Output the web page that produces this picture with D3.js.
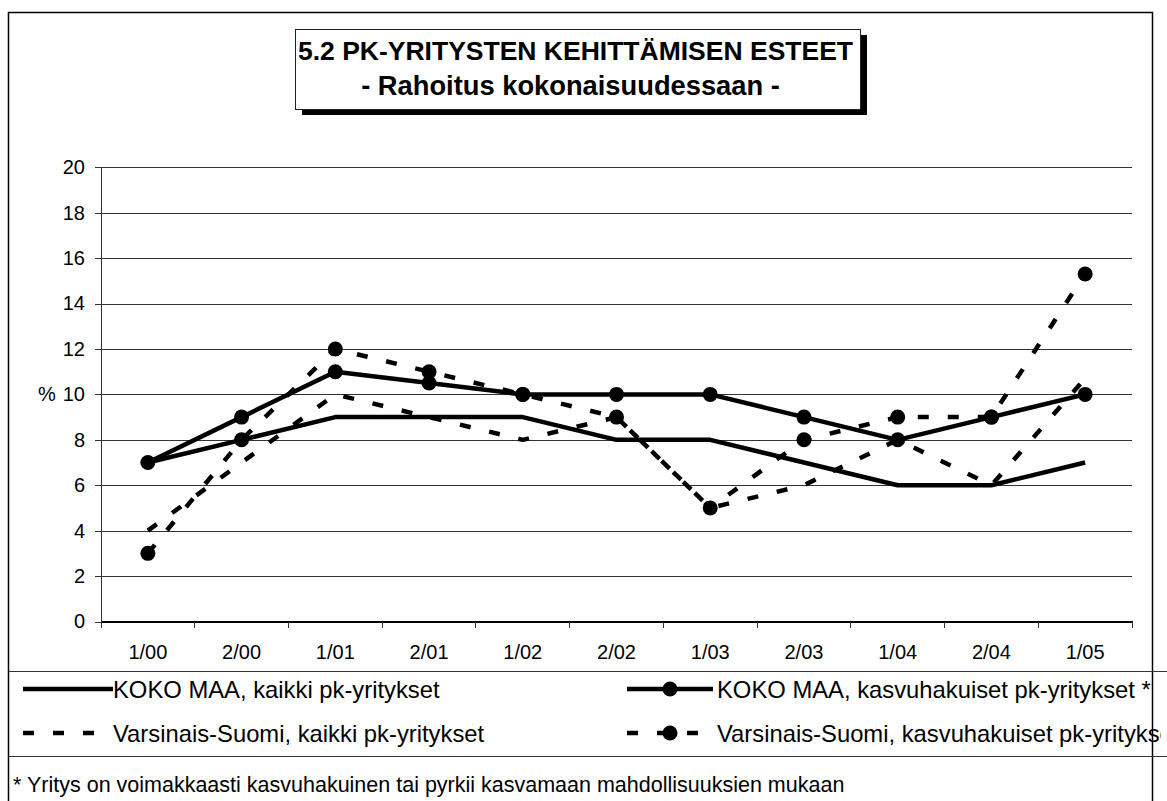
<!DOCTYPE html>
<html>
<head>
<meta charset="utf-8">
<script src="https://cdn.jsdelivr.net/npm/d3@7"></script>
<style>
  html, body { margin: 0; padding: 0; background: #fff; }
  svg { display: block; font-family: "Liberation Sans", Arial, sans-serif; }
</style>
</head>
<body>
<svg id="chart" width="1167" height="801"></svg>
<script>
// ---- data ----
const categories = ["1/00","2/00","1/01","2/01","1/02","2/02","1/03","2/03","1/04","2/04","1/05"];
const kokoKaikki = [7, 8, 9, 9, 9, 8, 8, 7, 6, 6, 7];
const kokoKasvu  = [7, 9, 11, 10.5, 10, 10, 10, 9, 8, 9, 10];
const vsKaikki   = [4, 7, 10, 9, 8, 9, 5, 6, 8, 6, 10.7];
const vsKasvu    = [3, 8, 12, 11, 10, 9, 5, 8, 9, 9, 15.3];
const yTicks = [0, 2, 4, 6, 8, 10, 12, 14, 16, 18, 20];
const seriesNames = [
  "KOKO MAA, kaikki pk-yritykset",
  "KOKO MAA, kasvuhakuiset pk-yritykset *",
  "Varsinais-Suomi, kaikki pk-yritykset",
  "Varsinais-Suomi, kasvuhakuiset pk-yritykset *"
];
const titleText = "5.2 PK-YRITYSTEN KEHITTÄMISEN ESTEET";
const subtitleText = "- Rahoitus kokonaisuudessaan -";
const yTitle = "%";
const footnote = "* Yritys on voimakkaasti kasvuhakuinen tai pyrkii kasvamaan mahdollisuuksien mukaan";

const series = [
  { name: seriesNames[0], values: kokoKaikki, dashed: false, marker: false },
  { name: seriesNames[1], values: kokoKasvu,  dashed: false, marker: true },
  { name: seriesNames[2], values: vsKaikki,   dashed: true,  marker: false },
  { name: seriesNames[3], values: vsKasvu,    dashed: true,  marker: true }
];

// ---- layout ----
const svg = d3.select("#chart");
const plot = { left: 101, right: 1132, top: 167.3, bottom: 621.5 };
const LW = 4.5, DASH = "11,19", R = 7.5;

// outer frame
svg.append("rect").attr("x", 8.5).attr("y", 12.5).attr("width", 1144).attr("height", 820)
  .attr("fill", "none").attr("stroke", "#000").attr("stroke-width", 1.5);

// title box with shadow
const tb = { x: 295, y: 29, w: 565, h: 80 };
svg.append("rect").attr("x", tb.x + 7).attr("y", tb.y + 6).attr("width", tb.w).attr("height", tb.h).attr("fill", "#000");
svg.append("rect").attr("x", tb.x + 0.5).attr("y", tb.y + 0.5).attr("width", tb.w).attr("height", tb.h)
  .attr("fill", "#fff").attr("stroke", "#222").attr("stroke-width", 1);
svg.append("text").attr("x", tb.x + tb.w / 2 - 2).attr("y", 60).attr("text-anchor", "middle")
  .attr("font-weight", "bold").attr("font-size", 26.5).text(titleText);
svg.append("text").attr("x", tb.x + tb.w / 2 - 7).attr("y", 95).attr("text-anchor", "middle")
  .attr("font-weight", "bold").attr("font-size", 27.3).text(subtitleText);

// scales
const x = d3.scaleBand().domain(categories).range([plot.left, plot.right]).padding(0);
const cx = d => x(d) + x.bandwidth() / 2;
const y = d3.scaleLinear().domain([0, 20]).range([plot.bottom, plot.top]);

// gridlines
const grid = svg.append("g").attr("transform", `translate(${plot.left},0)`)
  .call(d3.axisLeft(y).tickValues(yTicks.filter(v => v > 0)).tickSize(-(plot.right - plot.left)).tickFormat(""));
grid.select(".domain").remove();
grid.selectAll("line").attr("stroke", "#333").attr("stroke-width", 1).attr("shape-rendering", "crispEdges");

// y axis
const ya = svg.append("g").attr("transform", `translate(${plot.left},0)`)
  .call(d3.axisLeft(y).tickValues(yTicks).tickSize(6).tickPadding(10).tickSizeOuter(0));
ya.select(".domain").attr("stroke", "#333").attr("stroke-width", 1).attr("shape-rendering", "crispEdges");
ya.selectAll("line").attr("stroke", "#333").attr("shape-rendering", "crispEdges");
ya.selectAll("text").attr("font-size", 20).attr("fill", "#000").attr("font-family", "Liberation Sans, Arial, sans-serif");
svg.append("text").attr("x", 38).attr("y", y(10)).attr("dy", "0.35em").attr("font-size", 20).text(yTitle);

// x axis
const xa = svg.append("g").attr("transform", `translate(0,${plot.bottom})`)
  .call(d3.axisBottom(x).tickSize(0).tickPadding(23).tickSizeOuter(0));
xa.select(".domain").attr("stroke", "#000").attr("stroke-width", 1.2).attr("shape-rendering", "crispEdges");
xa.selectAll("text").attr("font-size", 20).attr("fill", "#000").attr("font-family", "Liberation Sans, Arial, sans-serif");
const boundaries = d3.range(categories.length + 1).map(i => plot.left + i * x.step());
xa.selectAll(".bnd").data(boundaries).join("line").attr("class", "bnd")
  .attr("x1", d => d).attr("x2", d => d).attr("y1", 0).attr("y2", 6)
  .attr("stroke", "#333").attr("stroke-width", 1).attr("shape-rendering", "crispEdges");

// lines
const line = d3.line().x((d, i) => cx(categories[i])).y(d => y(d));
series.forEach(s => {
  svg.append("path").datum(s.values).attr("d", line)
    .attr("fill", "none").attr("stroke", "#000").attr("stroke-width", LW)
    .attr("stroke-dasharray", s.dashed ? DASH : null).attr("stroke-linejoin", "round");
});
series.filter(s => s.marker).forEach(s => {
  svg.append("g").selectAll("circle").data(s.values).join("circle")
    .attr("cx", (d, i) => cx(categories[i])).attr("cy", d => y(d)).attr("r", R).attr("fill", "#000");
});

// legend box
const lg = { top: 671, mid: 756 };
[lg.top, lg.mid].forEach(v => {
  svg.append("line").attr("x1", 8.5).attr("x2", 1167).attr("y1", v + 0.5).attr("y2", v + 0.5)
    .attr("stroke", "#333").attr("stroke-width", 1.2);
});
svg.append("clipPath").attr("id", "lgclip").append("rect").attr("x", 0).attr("y", 660).attr("width", 1161).attr("height", 140);
const legendG = svg.append("g").attr("clip-path", "url(#lgclip)");
const legendPos = [
  { x0: 23, x1: 113, tx: 113, y: 689 },
  { x0: 627, x1: 713, tx: 717, y: 689 },
  { x0: 23, x1: 113, tx: 113, y: 733 },
  { x0: 627, x1: 713, tx: 717, y: 733 }
];
series.forEach((s, i) => {
  const p = legendPos[i];
  legendG.append("line").attr("x1", p.x0).attr("x2", p.x1).attr("y1", p.y).attr("y2", p.y)
    .attr("stroke", "#000").attr("stroke-width", LW).attr("stroke-dasharray", s.dashed ? DASH : null);
  if (s.marker) legendG.append("circle").attr("cx", (p.x0 + p.x1) / 2).attr("cy", p.y).attr("r", R).attr("fill", "#000");
  legendG.append("text").attr("x", p.tx).attr("y", p.y).attr("dy", "0.36em")
    .attr("font-size", 23.8).text(s.name);
});
svg.append("text").attr("x", 13).attr("y", 792).attr("font-size", 21.5).text(footnote);
</script>
</body>
</html>
